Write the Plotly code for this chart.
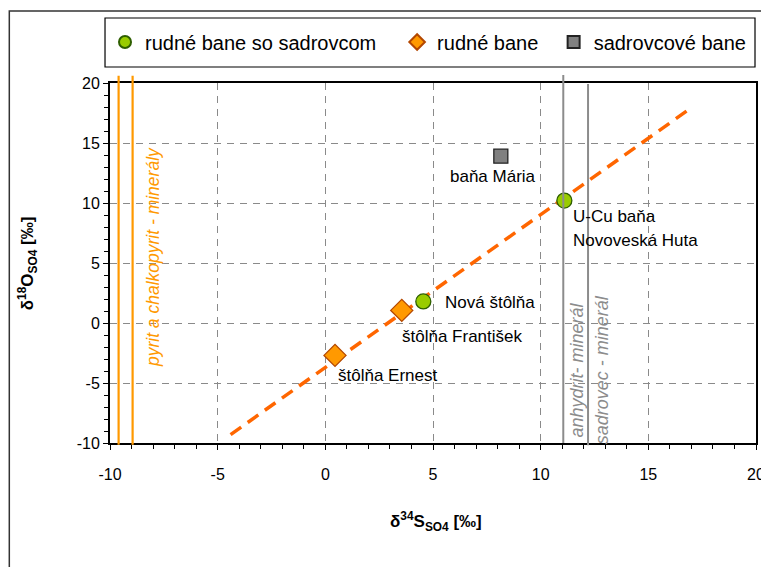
import plotly.graph_objects as go

# ---- data ----
ore_gyps_names = ["Nová štôlňa", "U-Cu baňa Novoveská Huta"]
ore_gyps_x = [4.55, 11.1]
ore_gyps_y = [1.8, 10.2]

ore_names = ["štôlňa Ernest", "štôlňa František"]
ore_x = [0.45, 3.55]
ore_y = [-2.7, 1.05]

gyps_names = ["baňa Mária"]
gyps_x = [8.15]
gyps_y = [13.9]

trend_x = [-4.4, 16.85]
trend_y = [-9.3, 17.75]

pyrite_x = [-9.6, -8.95]       # pyrit a chalkopyrit - minerály
sulfate_x = [11.05, 12.2]      # anhydrit, sadrovec

x_ticks = [-10, -5, 0, 5, 10, 15, 20]
y_ticks = [-10, -5, 0, 5, 10, 15, 20]

FONT = "Liberation Sans, Arial, sans-serif"
ORANGE = "#FF9900"
TREND = "#FF6600"
GRAY = "#8C8C8C"


def px(xp):   # page x pixel -> paper fraction
    return (xp - 110) / 648


def py(yp):   # page y pixel -> paper fraction
    return (443 - yp) / 360


fig = go.Figure()

fig.add_trace(go.Scatter(
    x=trend_x, y=trend_y, mode="lines", showlegend=False,
    line=dict(color=TREND, width=3.5, dash="13px,8px"), hoverinfo="skip"))

fig.add_trace(go.Scatter(
    x=ore_gyps_x, y=ore_gyps_y, mode="markers", name="rudné bane so sadrovcom",
    text=ore_gyps_names, legend="legend",
    marker=dict(symbol="circle", size=15, color="#99CC00",
                line=dict(color="#2E5E00", width=1.3))))
fig.add_trace(go.Scatter(
    x=ore_x, y=ore_y, mode="markers", name="rudné bane", text=ore_names,
    legend="legend2",
    marker=dict(symbol="diamond", size=17, color=ORANGE,
                line=dict(color="#B34700", width=1.3))))
fig.add_trace(go.Scatter(
    x=gyps_x, y=gyps_y, mode="markers", name="sadrovcové bane", text=gyps_names,
    legend="legend3",
    marker=dict(symbol="square", size=14, color="#808080",
                line=dict(color="#222222", width=1.3))))

shapes = []
for xv in pyrite_x:
    shapes.append(dict(type="line", xref="x", yref="paper", x0=xv, x1=xv,
                       y0=-0.005, y1=1.02, line=dict(color=ORANGE, width=2.2)))
shapes.append(dict(type="line", xref="x", yref="paper", x0=sulfate_x[0], x1=sulfate_x[0],
                   y0=0, y1=1.022, line=dict(color=GRAY, width=2)))
shapes.append(dict(type="line", xref="x", yref="paper", x0=sulfate_x[1], x1=sulfate_x[1],
                   y0=-0.006, y1=0.997, line=dict(color=GRAY, width=2)))
# legend box
shapes.append(dict(type="rect", xref="paper", yref="paper",
                   x0=px(105), x1=px(757), y0=py(67), y1=py(18),
                   line=dict(color="#000000", width=1.2), fillcolor="rgba(0,0,0,0)"))
# outer chart border
shapes.append(dict(type="rect", xref="paper", yref="paper",
                   x0=px(9), x1=px(800), y0=py(620), y1=py(11),
                   line=dict(color="#333333", width=1.5), fillcolor="rgba(0,0,0,0)"))

ann = []
lab = dict(font=dict(family=FONT, size=17, color="#000000"), showarrow=False)
ann.append(dict(x=7.8, y=12.2, text="baňa Mária", xanchor="center", yanchor="middle", **lab))
ann.append(dict(x=11.43, y=8.85, text="U-Cu baňa", xanchor="left", yanchor="middle", **lab))
ann.append(dict(x=11.43, y=6.85, text="Novoveská Huta", xanchor="left", yanchor="middle", **lab))
ann.append(dict(x=5.45, y=1.75, text="Nová štôlňa", xanchor="left", yanchor="middle", **lab))
ann.append(dict(x=3.45, y=-1.15, text="štôlňa František", xanchor="left", yanchor="middle", **lab))
ann.append(dict(x=0.5, y=-4.4, text="štôlňa Ernest", xanchor="left", yanchor="middle", **lab))

ann.append(dict(x=-8.0, y=5.5, text="<i>pyrit a chalkopyrit - minerály</i>", textangle=-90,
                xanchor="center", yanchor="middle", showarrow=False,
                font=dict(family=FONT, size=17.5, color=ORANGE)))
ann.append(dict(x=11.67, y=-3.9, text="<i>anhydrit- minerál</i>", textangle=-90,
                xanchor="center", yanchor="middle", showarrow=False,
                font=dict(family=FONT, size=18, color=GRAY)))
ann.append(dict(x=12.82, y=-3.9, text="<i>sadrovec - minerál</i>", textangle=-90,
                xanchor="center", yanchor="middle", showarrow=False,
                font=dict(family=FONT, size=18, color=GRAY)))

# axis titles
ann.append(dict(xref="paper", yref="paper", x=px(437), y=py(521),
                text="<b>δ<sup>34</sup>S<sub>SO4</sub> [‰]</b>", showarrow=False,
                xanchor="center", yanchor="middle",
                font=dict(family=FONT, size=17, color="#000000")))
ann.append(dict(xref="paper", yref="paper", x=px(27), y=0.5,
                text="<b>δ<sup>18</sup>O<sub>SO4</sub> [‰]</b>", showarrow=False,
                textangle=-90, xanchor="center", yanchor="middle",
                font=dict(family=FONT, size=17, color="#000000")))

axis_common = dict(
    showline=True, linecolor="#000000", linewidth=2, mirror=True,
    showgrid=True, gridcolor="#8A8A8A", griddash="7px,6px", gridwidth=1,
    zeroline=False, ticks="outside", ticklen=5, tickcolor="#000000", tickwidth=1,
    tickfont=dict(family=FONT, size=16, color="#000000"),
    tickmode="array",
    minor=dict(dtick=1, ticks="outside", ticklen=4, tickcolor="#000000", showgrid=False),
)

leg_common = dict(orientation="h", yanchor="middle", xanchor="left", y=py(42),
                  bgcolor="rgba(0,0,0,0)", borderwidth=0,
                  font=dict(family=FONT, size=20, color="#000000"),
                  itemsizing="constant", itemwidth=30)

fig.update_layout(
    width=769, height=567,
    margin=dict(l=102, r=19, t=75, b=132),
    paper_bgcolor="white", plot_bgcolor="white",
    font=dict(family=FONT),
    xaxis=dict(range=[-10, 20], tickvals=x_ticks, ticktext=[str(v) for v in x_ticks],
               ticklabelstandoff=11, **axis_common),
    yaxis=dict(range=[-10, 20], tickvals=y_ticks, ticktext=[str(v) for v in y_ticks],
               **axis_common),
    shapes=shapes, annotations=ann,
    legend=dict(x=px(105), **leg_common),
    legend2=dict(x=px(398), **leg_common),
    legend3=dict(x=px(555), **leg_common),
)

fig.write_html("out.html")
